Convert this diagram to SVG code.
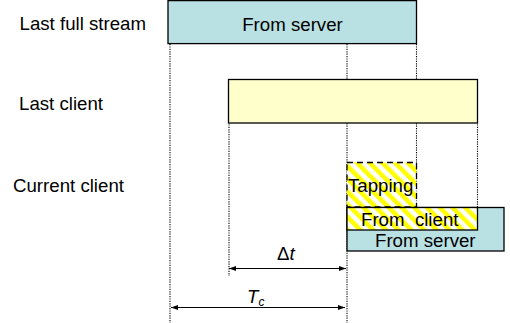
<svg xmlns="http://www.w3.org/2000/svg" width="510" height="323" viewBox="0 0 510 323">
<style>
text{font-family:"Liberation Sans",Arial,sans-serif;font-size:18.67px;fill:#000}
.box{stroke:#000;stroke-width:1.3}
.blue{fill:#B9E0E2}
.yel{fill:#FFFFCC}
.dot{stroke:#000;stroke-width:1.1;stroke-dasharray:1.2,1.2;fill:none}
.arr{stroke:#000;stroke-width:1;fill:none;marker-start:url(#ah);marker-end:url(#ah)}
</style>
<defs>
<pattern id="hatch" width="9" height="9" patternUnits="userSpaceOnUse" patternTransform="rotate(-45)">
<rect width="9" height="9" fill="#fff"/>
<rect width="4.5" height="9" fill="#FFFF00"/>
</pattern>
<marker id="ah" viewBox="0 0 10 10" refX="10" refY="5" markerWidth="7" markerHeight="7" markerUnits="userSpaceOnUse" orient="auto-start-reverse">
<path d="M0,1.5 L10,5 L0,8.5 Z" fill="#000"/>
</marker>
</defs>
<g id="connectors">
<line class="dot" x1="170" y1="44" x2="170" y2="323"/>
<line class="dot" x1="347" y1="44" x2="347" y2="323"/>
<line class="dot" x1="416.5" y1="44" x2="416.5" y2="207"/>
<line class="dot" x1="229" y1="122" x2="229" y2="276"/>
<line class="dot" x1="477.5" y1="122" x2="477.5" y2="207"/>
<line class="arr" x1="229" y1="268.5" x2="346" y2="268.5"/>
<line class="arr" x1="171" y1="307.5" x2="345" y2="307.5"/>
</g>
<g id="label-last-full-stream"><text x="19.5" y="30">Last full stream</text></g>
<g id="label-last-client"><text x="19" y="110">Last client</text></g>
<g id="label-current-client"><text x="13" y="192">Current client</text></g>
<g id="full-stream-server">
<rect class="box blue" x="168" y="0.6" width="248.5" height="43"/>
<text x="292.5" y="30.5" text-anchor="middle">From server</text>
</g>
<g id="last-client">
<rect class="box yel" x="228.5" y="79.5" width="249" height="43.5"/>
</g>
<g id="tapping">
<rect x="347" y="162.5" width="69.5" height="44.5" fill="url(#hatch)" stroke="#000" stroke-width="1.3" stroke-dasharray="6,4"/>
<text x="348" y="191.5">Tapping</text>
</g>
<g id="current-server">
<rect class="box blue" x="347" y="207.5" width="157" height="43.5"/>
<text x="375" y="246.5">From server</text>
</g>
<g id="current-client">
<rect x="347" y="207.5" width="130.5" height="22.5" fill="url(#hatch)" stroke="#000" stroke-width="1.3"/>
<text x="361" y="226" xml:space="preserve">From  client</text>
</g>
<g id="delta-t"><text x="277" y="259.5">Δ<tspan font-style="italic">t</tspan></text></g>
<g id="tc"><text x="247" y="302.5" font-style="italic">T<tspan font-size="12" dy="3">c</tspan></text></g>
</svg>
